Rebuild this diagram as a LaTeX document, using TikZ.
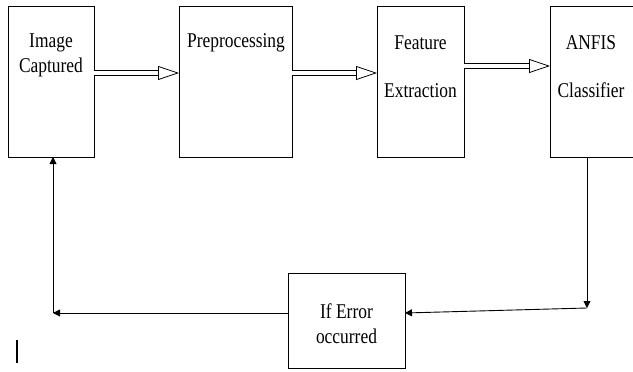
\documentclass[tikz,border=0pt]{standalone}
\usepackage{fontspec}
\setmainfont[FakeStretch=0.83]{Liberation Serif}
\usetikzlibrary{arrows.meta}

\tikzset{blk/.style = {draw, line width=0.9pt, inner sep=0pt, outer sep=0pt},
	lbl/.style = {align=center, inner sep=0pt, font=\fontsize{21}{25}\selectfont},
	hollow/.style = {double, double distance=4.5pt, line width=0.8pt,
		-{Triangle[open, length=21pt, width=14pt]}},
	thin/.style = {line width=0.9pt, -{Triangle[length=7pt, width=7pt]}}}

\begin{document}
\begin{tikzpicture}[x=1pt,y=-1pt]
	 \clip (0,0) rectangle (633,372);
	 \useasboundingbox (0,0) rectangle (633,372);

	 \node[blk, minimum width=86pt, minimum height=151pt] (capture) at (51,81.5) {};
	 \node[blk, minimum width=113pt, minimum height=151pt] (prep) at (235.5,81.5) {};
	 \node[blk, minimum width=87pt, minimum height=151pt] (feat) at (420.5,81.5) {};
	 \node[blk, minimum width=96pt, minimum height=151pt] (anfis) at (598,81.5) {};
	 \node[blk, minimum width=117pt, minimum height=95pt] (error) at (346.5,320.5) {};

	 \node[lbl] (capture-txt) at (51,55.5) {Image\\Captured};
	 \node[lbl] (prep-txt) at (236,43) {Preprocessing};
	 \node[lbl] (feat-txt) at (420.5,67) {Feature\\[23pt]Extraction};
	 \node[lbl] (anfis-txt) at (591,67) {ANFIS\\[23pt]Classifier};
	 \node[lbl] (error-txt) at (346.5,323.5) {If Error\\occurred};

	 \coordinate (a1-y) at (0,73);
	 \coordinate (a2-y) at (0,73);
	 \coordinate (a3-y) at (0,66);
	 \coordinate (in-y) at (0,313);
	 \coordinate (turn-r) at (587,308);
	 \coordinate (turn-l) at (53,313);

	 \draw[hollow] (a1-y-|capture.east) -- (a1-y-|prep.west);
	 \draw[hollow] (a2-y-|prep.east) -- (a2-y-|feat.west);
	 \draw[hollow] (a3-y-|feat.east) -- (a3-y-|anfis.west);

	 \draw[thin] (turn-r|-anfis.south) -- (turn-r);
	 \draw[thin] (turn-r) -- (in-y-|error.east);
	 \draw[thin] (in-y-|error.west) -- (turn-l);
	 \draw[thin] (turn-l) -- (turn-l|-capture.south);

	 \draw[line width=1.2pt] (17,340) -- (17,363);

\end{tikzpicture}
\end{document}
